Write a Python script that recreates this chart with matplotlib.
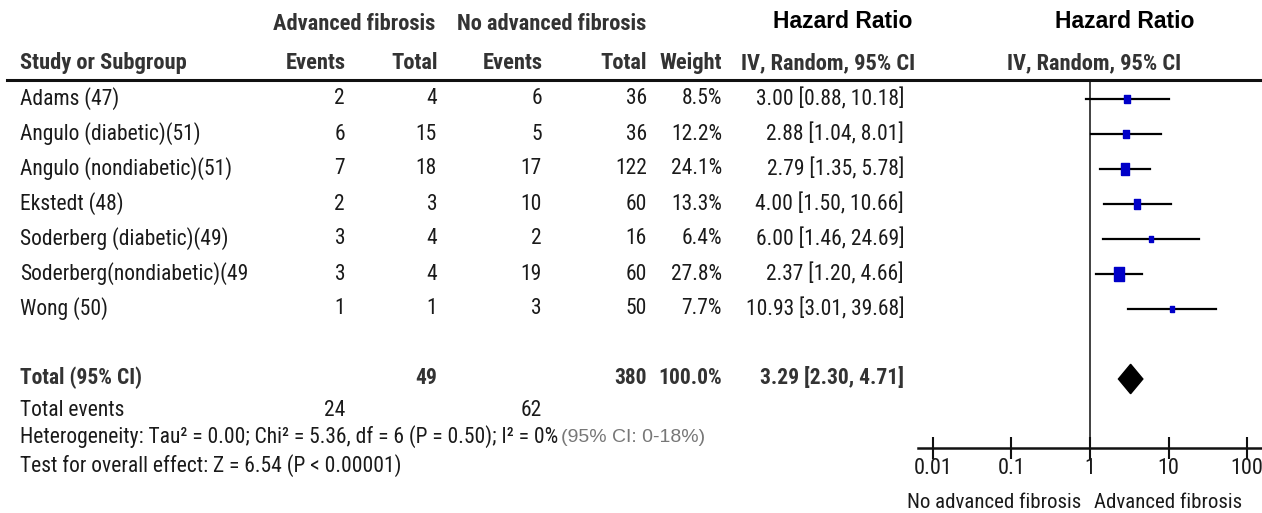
# Forest plot: advanced fibrosis vs no advanced fibrosis
import matplotlib
matplotlib.use("Agg")
import numpy as np
import matplotlib.pyplot as plt
from matplotlib import font_manager
from matplotlib.lines import Line2D

# データ
studies = ["Adams (47)", "Angulo (diabetic)(51)", "Angulo (nondiabetic)(51)",
           "Ekstedt (48)", "Soderberg (diabetic)(49)", "Soderberg(nondiabetic)(49",
           "Wong (50)"]
adv_events = [2, 6, 7, 2, 3, 3, 1]
adv_total = [4, 15, 18, 3, 4, 4, 1]
noadv_events = [6, 5, 17, 10, 2, 19, 3]
noadv_total = [36, 36, 122, 60, 16, 60, 50]
weights = [8.5, 12.2, 24.1, 13.3, 6.4, 27.8, 7.7]
hr = [3.00, 2.88, 2.79, 4.00, 6.00, 2.37, 10.93]
ci_low = [0.88, 1.04, 1.35, 1.50, 1.46, 1.20, 3.01]
ci_high = [10.18, 8.01, 5.78, 10.66, 24.69, 4.66, 39.68]
total_hr, total_low, total_high = 3.29, 2.30, 4.71
total_adv, total_noadv = 49, 380
events_adv, events_noadv = 24, 62
ticks = [0.01, 0.1, 1, 10, 100]
tick_labels = ["0.01", "0.1", "1", "10", "100"]

W, H = 1262, 513

# fontの設定 (Arial Narrow に近いもの)
names = {f.name for f in font_manager.fontManager.ttflist}
narrow = "Liberation Sans"
for cand in ["Liberation Sans Narrow", "Roboto Condensed", "Archivo Narrow"]:
    if cand in names:
        narrow = cand
        break
wide = "Liberation Sans"
FS = 15.5

fig = plt.figure(figsize=(W / 100, H / 100), dpi=100)


def px(x, y):
    return x / W, 1 - y / H


def put(x, y, s, ha="left", bold=False, size=FS, family=None, color="#1a1a1a"):
    return fig.text(*px(x, y), s, ha=ha, va="center", fontsize=size,
                    fontweight="bold" if bold else "normal",
                    family=family or narrow, color=color)


# ヘッダー
hc = "#333333"
put(354, 24, "Advanced fibrosis", ha="center", bold=True, size=16.2, color=hc)
put(552, 24, "No advanced fibrosis", ha="center", bold=True, size=16.2, color=hc)
put(843, 22, "Hazard Ratio", ha="center", bold=True, family=wide, size=16.5, color="black")
put(1125, 22, "Hazard Ratio", ha="center", bold=True, family=wide, size=16.5, color="black")
put(20, 63, "Study or Subgroup", bold=True, size=16.2, color=hc)
put(346, 63, "Events", ha="right", bold=True, size=16.2, color=hc)
put(438, 63, "Total", ha="right", bold=True, size=16.2, color=hc)
put(543, 63, "Events", ha="right", bold=True, size=16.2, color=hc)
put(647, 63, "Total", ha="right", bold=True, size=16.2, color=hc)
put(722, 63, "Weight", ha="right", bold=True, size=16.2, color=hc)
put(828, 63, "IV, Random, 95% CI", ha="center", bold=True, size=16.2, color=hc)
put(1094, 63, "IV, Random, 95% CI", ha="center", bold=True, size=16.2, color=hc)
fig.add_artist(Line2D([7 / W, 1], [1 - 80 / H] * 2, color="#111111", lw=2.2))

# 各研究の行
for i, name in enumerate(studies):
    y = 99 + 35 * i
    put(20, y, name)
    put(345, y, str(adv_events[i]), ha="right")
    put(437, y, str(adv_total[i]), ha="right")
    put(542, y, str(noadv_events[i]), ha="right")
    put(647, y, str(noadv_total[i]), ha="right")
    put(722, y, f"{weights[i]:.1f}%", ha="right")
    put(904, y, f"{hr[i]:.2f} [{ci_low[i]:.2f}, {ci_high[i]:.2f}]", ha="right")

# Total行
put(20, 378, "Total (95% CI)", bold=True, color=hc)
put(437, 378, str(total_adv), ha="right", bold=True, color=hc)
put(647, 378, str(total_noadv), ha="right", bold=True, color=hc)
put(722, 378, "100.0%", ha="right", bold=True, color=hc)
put(904, 378, f"{total_hr:.2f} [{total_low:.2f}, {total_high:.2f}]", ha="right", bold=True, color=hc)

put(20, 410, "Total events")
put(345, 410, str(events_adv), ha="right")
put(542, 410, str(events_noadv), ha="right")
het = put(20, 437, "Heterogeneity: Tau² = 0.00; Chi² = 5.36, df = 6 (P = 0.50); I² = 0%")
put(20, 466, "Test for overall effect: Z = 6.54 (P < 0.00001)")

fig.canvas.draw()
bb = het.get_window_extent()
put(bb.x1 + 3, 437, "(95% CI: 0-18%)", family=wide, size=14, color="#777777")

# フォレストプロット
ax = fig.add_axes([918 / W, 1 - 448 / H, (W - 918) / W, (448 - 80) / H])
ax.set_xscale("log")
ax.set_xlim(10 ** -2.19, 10 ** 2.19)
ax.set_ylim((448 - 99) / 35, -(99 - 80) / 35)
ax.set_facecolor("none")
for side in ["top", "right", "left"]:
    ax.spines[side].set_visible(False)
ax.spines["bottom"].set_linewidth(1.8)
ax.spines["bottom"].set_color("#111111")
ax.set_yticks([])
ax.set_xticks(ticks)
ax.set_xticklabels(tick_labels, family=narrow, fontsize=16, color="#1a1a1a")
ax.minorticks_off()
ax.tick_params(axis="x", direction="inout", length=16, width=1.5, pad=-1, color="#111111")
ax.axvline(1, color="#333333", lw=1.3, zorder=1)

box = [(-0.36, -0.5), (0.36, -0.5), (0.36, 0.5), (-0.36, 0.5), (-0.36, -0.5)]
for i in range(len(studies)):
    ax.plot([ci_low[i], ci_high[i]], [i, i], color="black", lw=1.6, zorder=2)
    ms = 2.5 * np.sqrt(weights[i]) * 0.72
    ax.plot([hr[i]], [i], marker=box, ms=ms, color="#0000c8", mec="#0000c8", zorder=3)

ax.fill([total_low, total_hr, total_high, total_hr], [8, 7.58, 8, 8.42], color="black", zorder=3)

put(994, 502, "No advanced fibrosis", ha="center", size=15)
put(1168, 502, "Advanced fibrosis", ha="center", size=15)

plt.savefig("out.png", dpi=100)
